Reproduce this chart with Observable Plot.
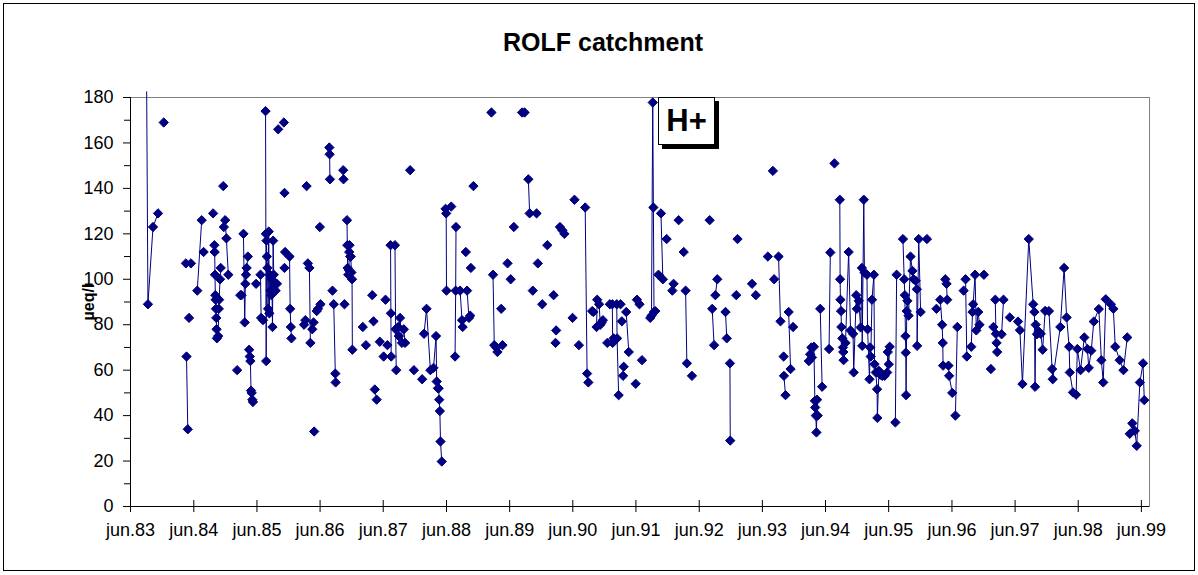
<!DOCTYPE html>
<html><head><meta charset="utf-8">
<script src="https://cdn.jsdelivr.net/npm/d3@7"></script>
<script src="https://cdn.jsdelivr.net/npm/@observablehq/plot@0.6"></script>
<style>
body{margin:0;background:#fff;font-family:Arial,"Liberation Sans",sans-serif;}
#wrap{position:relative;width:1198px;height:575px;overflow:hidden;background:#fff;}
#border{position:absolute;left:3px;top:3px;width:1190px;height:566px;border:1px solid #000;}
#title{position:absolute;left:0;width:1198px;padding-left:8px;box-sizing:border-box;top:28px;line-height:28px;text-align:center;font-weight:bold;font-size:25px;}
#chart{position:absolute;left:0;top:0;}
#hplus{position:absolute;left:658px;top:97px;width:55px;height:46px;border:1px solid #000;background:#fff;box-shadow:4px 4px 0 #000;font-weight:bold;font-size:31px;display:flex;align-items:center;justify-content:center;}
</style></head><body>
<div id="wrap"><div id="border"></div><div id="chart"></div><div id="title">ROLF catchment</div><div id="hplus">H+</div></div>
<script>
// [decimal year, H+ µeq/l]; null = gap in the series
const h1983_85 = [
[1983.67,182.5],[1983.69,89],[1983.77,123],[1983.85,129],null,
[1983.94,169],null,[1984.29,107],null,[1984.30,66],[1984.32,34],null,
[1984.34,83],null,[1984.37,107],null,[1984.47,95],[1984.54,126],null,
[1984.57,112],null,[1984.72,129],null,
[1984.74,115],[1984.745,112],[1984.75,102],[1984.755,93],[1984.76,91],[1984.765,87],[1984.77,83],[1984.775,78],[1984.78,74],[1984.80,75],[1984.81,87],[1984.815,91],[1984.83,100],[1984.84,105],null,
[1984.88,141],null,[1984.89,123],[1984.91,126],[1984.93,118],[1984.96,102],null,
[1985.10,60],null,[1985.15,93],[1985.17,93],null,
[1985.20,120],[1985.22,81],[1985.23,98],[1985.24,102],[1985.25,105],[1985.27,110],null,
[1985.29,69],[1985.30,66],[1985.31,64],[1985.32,51],[1985.33,50],[1985.34,47],[1985.35,46],null,
[1985.40,98],null,[1985.47,102],[1985.48,83],[1985.51,82],null,
[1985.55,174],[1985.555,120],[1985.56,64],[1985.565,117],[1985.57,110],[1985.58,105],[1985.59,87],[1985.60,121],[1985.61,85],[1985.62,102],[1985.63,95],[1985.64,93],[1985.65,100],[1985.66,79],[1985.67,117],[1985.68,102],[1985.69,98],[1985.71,95],[1985.73,98],null,
[1985.75,166],null,[1985.84,169],null,[1985.85,138],null,[1985.85,105],null,[1985.86,112],null,
[1985.93,110],[1985.94,87],[1985.95,79],[1985.96,74],null
];
const h1986_88 = [
[1986.16,80],[1986.18,82],null,[1986.20,141],null,[1986.22,107],[1986.245,105],[1986.26,72],null,
[1986.29,78],[1986.31,81],null,[1986.32,33],null,[1986.36,86],[1986.38,87],[1986.42,89],null,
[1986.41,123],null,[1986.56,158],[1986.565,155],[1986.57,144],null,[1986.61,95],null,
[1986.63,89],[1986.655,58.5],[1986.66,54.6],null,[1986.78,148],[1986.785,144],null,[1986.80,89],null,
[1986.84,126],[1986.845,115],[1986.85,105],[1986.86,102],[1986.87,104],[1986.875,112],[1986.88,115],[1986.89,110],[1986.90,110],[1986.91,103],[1986.92,100],[1986.925,69],null,
[1987.09,79],null,[1987.14,71],null,[1987.24,93],null,[1987.26,81.5],null,[1987.28,51.5],[1987.31,47],null,
[1987.36,72.5],null,[1987.42,66],null,[1987.45,91],null,[1987.48,71],null,
[1987.53,115],[1987.535,85],[1987.54,66],null,[1987.60,115],[1987.61,78],[1987.62,60],null,
[1987.65,79],[1987.66,75],[1987.68,83],[1987.71,72],[1987.74,78],[1987.76,72],null,
[1987.84,148],null,[1987.90,60],null,[1988.03,56],null,
[1988.06,76],[1988.10,87],[1988.16,60],[1988.21,61],[1988.25,75],[1988.26,55],[1988.28,52],[1988.29,52],[1988.30,47],[1988.31,42],[1988.32,28.6],[1988.34,19.8],null,
[1988.40,131],[1988.41,129],[1988.415,95],null,[1988.49,132],null,
[1988.55,66],[1988.56,95],[1988.565,123],null,[1988.63,95],[1988.66,82],[1988.67,79],null,
[1988.72,112],null,[1988.74,95],[1988.77,83],[1988.79,84],null,[1988.80,105],null,[1988.84,141],null
];
const h1989_91 = [
[1989.125,173.4],null,[1989.15,102],[1989.17,71],[1989.20,70],[1989.22,68],[1989.30,71],null,
[1989.28,87],null,[1989.38,107],null,[1989.43,100],null,[1989.48,123],null,
[1989.61,173.4],null,[1989.65,173.4],null,[1989.71,144],[1989.73,129],null,
[1989.78,95],null,[1989.84,129],null,[1989.86,107],null,[1989.93,89],null,[1990.01,115],null,
[1990.11,93],null,[1990.14,72],null,[1990.15,77.5],null,[1990.21,123],[1990.25,121.5],[1990.28,120],null,
[1990.41,83],null,[1990.44,135],null,[1990.51,71],null,[1990.61,131.6],[1990.64,58.5],[1990.66,54.6],null,
[1990.72,86],[1990.74,85.6],null,[1990.79,79],[1990.80,91],[1990.83,89],[1990.85,80],[1990.87,81],[1990.89,82],null,
[1990.96,72],null,[1991.00,89],[1991.04,89],[1991.045,72],null,[1991.06,74],null,
[1991.11,89],[1991.115,74],[1991.14,49],null,[1991.17,89],null,[1991.19,81.5],null,
[1991.21,57.5],[1991.22,61.5],null,[1991.26,85.6],[1991.30,68],null,[1991.41,54],null,
[1991.43,91],[1991.47,89],null,[1991.51,64.4],null
];
const h1991_93 = [
[1991.64,83],[1991.66,84],[1991.68,177.8],[1991.69,131.6],[1991.70,85.6],[1991.72,86],null,
[1991.77,102],null,[1991.81,129],[1991.84,100],null,[1991.90,117.7],null,[1991.99,95],[1992.01,98],null,
[1992.09,126],null,[1992.17,112],null,[1992.20,95],[1992.22,63],null,[1992.30,57.5],null,
[1992.58,126],null,[1992.62,87],[1992.65,71],null,[1992.67,93],[1992.70,100],null,
[1992.83,85.6],[1992.85,74],null,[1992.90,63],[1992.905,29],null,[1993.00,93],null,[1993.02,117.7],null,
[1993.25,98],null,[1993.31,93],null,[1993.50,110],null,[1993.58,147.7],null,[1993.60,100],null,
[1993.67,110],[1993.70,81.5],null,[1993.75,66],null,[1993.755,57.5],[1993.78,49],null,
[1993.83,85.6],[1993.86,60.5],null,[1993.90,79],null
];
const h1994_96 = [
[1994.15,64],[1994.17,67],[1994.19,70],[1994.20,65.6],[1994.23,70.3],[1994.245,46.5],[1994.25,43.6],[1994.26,40],[1994.27,32.6],[1994.28,47],[1994.29,40],null,
[1994.33,87],[1994.36,52.7],null,[1994.47,69.3],[1994.49,111.8],null,[1994.555,151],null,
[1994.64,135],[1994.645,100],[1994.65,91],[1994.66,86],[1994.665,79],[1994.68,74],[1994.69,70],[1994.695,68],[1994.70,64.4],[1994.73,72],
[1994.78,112],[1994.81,77.5],[1994.85,76],[1994.86,59],[1994.90,93],[1994.91,87],[1994.94,90.5],[1994.97,78.8],[1994.99,105],[1994.995,70.7],
[1995.02,135],[1995.03,103],[1995.07,102],[1995.08,78],[1995.11,56],[1995.12,70],[1995.13,66],[1995.15,91],[1995.18,102],[1995.19,62.6],
[1995.21,59],[1995.23,51.6],[1995.235,39],[1995.26,59.7],[1995.28,58],[1995.31,57.5],[1995.35,57.5],[1995.39,59],[1995.40,68],[1995.415,62.6],[1995.43,70.3],null,
[1995.52,37],[1995.54,102],null,
[1995.64,117.7],[1995.66,100],[1995.67,93],[1995.68,75],[1995.685,67.7],[1995.69,49],[1995.70,86],[1995.71,90.5],[1995.73,84],[1995.76,110],
[1995.79,103.7],[1995.81,100],[1995.84,99.4],[1995.86,95.6],[1995.865,70.7],[1995.89,117.7],[1995.92,85.6],null,
[1996.02,117.7],null,[1996.17,87],null,[1996.23,91],[1996.26,80],[1996.27,72],[1996.275,62],null,
[1996.31,100],[1996.33,98],[1996.34,91],null,[1996.36,62],[1996.37,57.5],[1996.42,50],null,
[1996.47,40],[1996.50,79],null,[1996.60,95],null,[1996.63,100],[1996.65,66],null,
[1996.72,70.3],[1996.74,85.6],[1996.75,89],[1996.78,102],[1996.80,77.5],[1996.83,85.6],[1996.85,80],null,
[1996.92,102],null
];
const h1997_99 = [
[1997.03,60.5],null,[1997.07,79],null,[1997.10,91],[1997.11,76],[1997.12,72],[1997.13,68],null,
[1997.20,75.8],[1997.23,91],null,[1997.33,83.2],null,
[1997.46,81.4],[1997.49,77.6],[1997.53,53.9],[1997.63,117.7],[1997.70,89],[1997.72,85.6],[1997.73,52.7],[1997.74,80],[1997.76,75.8],[1997.79,77],
[1997.82,76],[1997.85,69],[1997.89,86.1],[1997.95,86],[1998.00,60.5],[1998.01,56],[1998.13,79],[1998.19,105],[1998.23,83.2],[1998.27,70.3],
[1998.28,59],[1998.33,50.2],[1998.38,49.2],[1998.40,69.3],[1998.45,60],[1998.51,74.4],[1998.56,69.3],[1998.58,61],[1998.62,68.6],[1998.66,81.4],
[1998.74,86.9],[1998.78,64.4],[1998.81,54.6],[1998.85,91.2],[1998.93,89],[1998.97,87],[1999.00,70.3],[1999.07,64.4],[1999.13,60],[1999.19,74.4],null,
[1999.23,32],[1999.27,36.6],[1999.31,33.3],[1999.34,26.7],[1999.39,54.6],[1999.44,63],[1999.46,46.8]
];
const tickYears = [1983,1984,1985,1986,1987,1988,1989,1990,1991,1992,1993,1994,1995,1996,1997,1998,1999];
const tickLabels = ["jun.83","jun.84","jun.85","jun.86","jun.87","jun.88","jun.89","jun.90","jun.91","jun.92","jun.93","jun.94","jun.95","jun.96","jun.97","jun.98","jun.99"];
const yMajor = [0,20,40,60,80,100,120,140,160,180];
const yMinor = [10,30,50,70,90,110,130,150,170];
const yTitle = "µeq/l";

const toDate = y => {
  const yr = Math.floor(y);
  const s = Date.UTC(yr,0,1), e = Date.UTC(yr+1,0,1);
  return new Date(s + (y - yr) * (e - s));
};
const rows = [].concat(h1983_85, h1986_88, h1989_91, h1991_93, h1994_96, h1997_99)
  .map(p => p ? {date: toDate(p[0]), value: p[1]} : {date: null, value: null});
const dots = rows.filter(d => d.value != null && d.value <= 180);
const tickDates = tickYears.map(y => new Date(Date.UTC(y,5,1)));
const labelOf = d => tickLabels[tickDates.findIndex(t => +t === +d)];
const x0 = new Date(Date.UTC(1983,5,1)), x1 = new Date(Date.UTC(1999,6,18));
const navy = "#000080";

const chart = Plot.plot({
  width: 1198, height: 575,
  marginLeft: 130, marginRight: 49, marginTop: 97, marginBottom: 69,
  x: {type: "utc", domain: [x0, x1], label: null},
  y: {domain: [0, 180], label: null},
  style: {fontFamily: "Arial, 'Liberation Sans', sans-serif", fontSize: "18px", color: "#000", background: "transparent", overflow: "visible"},
  marks: [
    Plot.frame({stroke: "#808080"}),
    Plot.axisY(yMinor, {tickSize: 6, tickFormat: () => "", label: null}),
    Plot.axisY(yMajor, {tickSize: 7, tickPadding: 10, tickFormat: d => String(d), label: null}),
    Plot.axisX(tickDates, {tickSize: 12, dy: -6, tickFormat: () => "", label: null}),
    Plot.axisX(tickDates, {tickSize: 0, tickPadding: 17, tickFormat: labelOf, label: null}),
    Plot.ruleX([x0], {stroke: "#000"}),
    Plot.ruleY([0], {stroke: "#000"}),
    Plot.text([yTitle], {frameAnchor: "left", textAnchor: "middle", dx: -42, rotate: -90, fontWeight: "bold", fontSize: 16}),
    Plot.line(rows, {x: "date", y: "value", stroke: navy, strokeWidth: 1}),
    Plot.dot(dots, {x: "date", y: "value", symbol: "diamond2", r: 4.2, fill: navy, stroke: navy, strokeWidth: 1})
  ]
});
document.getElementById("chart").appendChild(chart);
</script>
</body></html>
